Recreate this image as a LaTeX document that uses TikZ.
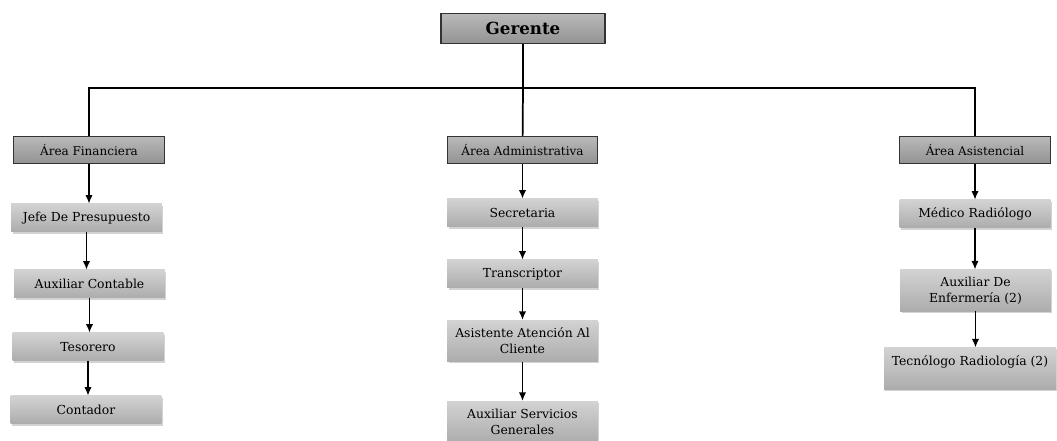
\documentclass[tikz,border=0pt]{standalone}
\usepackage{fontspec}
\setmainfont{DejaVu Serif}
\usetikzlibrary{positioning,shadows,arrows.meta}

\begin{document}
\begin{tikzpicture}[x=0.75pt,y=-0.75pt,
        bossnode/.style={draw=black!80, thick, top color=gray!55, bottom color=gray!85, minimum width=123pt, minimum height=23pt, font=\fontsize{12.5}{14}\selectfont\bfseries},
        areanode/.style={draw=black!80, thick, top color=gray!55, bottom color=gray!85, minimum width=113pt, minimum height=20pt, inner sep=1pt, font=\fontsize{9}{10}\selectfont},
        jobnode/.style={top color=gray!35, bottom color=gray!65, drop shadow={opacity=0.35, shadow xshift=1pt, shadow yshift=-1.2pt}, minimum width=113pt, minimum height=21pt, inner sep=1pt, align=center, font=\fontsize{9.3}{12}\selectfont},
        tallnode/.style={jobnode, minimum height=31pt},
        treeline/.style={line width=1.3pt},
        arrow/.style={line width=1.2pt, -{Latex[length=6.5pt,width=5.5pt]}},
    ]
    \useasboundingbox (0,0) rectangle (1057,441);

    %Nodes: top
    \node[bossnode] (gerente) at (523,28.5) {Gerente};

    %Nodes: areas
    \node[areanode] (area_fin) at (89,150)    {Área Financiera};
    \node[areanode] (area_adm) at (522.5,150) {Área Administrativa};
    \node[areanode] (area_asi) at (975,150)   {Área Asistencial};

    %Nodes: financiera
    \node[jobnode] (fin_jefe)  at (86.5,218) {Jefe De Presupuesto};
    \node[jobnode] (fin_aux)   at (89.5,284) {Auxiliar Contable};
    \node[jobnode] (fin_teso)  at (88,347)   {Tesorero};
    \node[jobnode] (fin_cont)  at (86,410)   {Contador};

    %Nodes: administrativa
    \node[jobnode]  (adm_secr)  at (522.5,213) {Secretaria};
    \node[jobnode]  (adm_trans) at (522.5,274) {Transcriptor};
    \node[tallnode] (adm_asis)  at (522.5,341) {Asistente Atención Al\\Cliente};
    \node[tallnode] (adm_serv)  at (522.5,422) {Auxiliar Servicios\\Generales};

    %Nodes: asistencial
    \node[jobnode]  (asi_med)   at (975,214)   {Médico Radiólogo};
    \node[tallnode] (asi_enf)   at (975.5,290.5) {Auxiliar De\\Enfermería (2)};
    \node[tallnode, minimum width=129pt] (asi_tec) at (970,368.5) {Tecnólogo Radiología (2)\\\mbox{}};

    %Lines: tree from the top
    \coordinate (bus) at (523,88);
    \draw[treeline] (gerente) -- (bus);
    \draw[treeline] (area_fin) |- (bus) -| (area_asi);
    \draw[treeline] (bus) -- (area_adm);

    %Arrows: inside each area
    \draw[arrow] (area_fin) -- (area_fin.south |- fin_jefe.north);
    \draw[arrow] (fin_jefe) -- (fin_jefe.south |- fin_aux.north);
    \draw[arrow] (fin_aux)  -- (fin_aux.south |- fin_teso.north);
    \draw[arrow] (fin_teso) -- (fin_teso.south |- fin_cont.north);

    \draw[arrow] (area_adm)  -- (adm_secr);
    \draw[arrow] (adm_secr)  -- (adm_trans);
    \draw[arrow] (adm_trans) -- (adm_asis);
    \draw[arrow] (adm_asis)  -- (adm_serv);

    \draw[arrow] (area_asi) -- (asi_med);
    \draw[arrow] (asi_med)  -- (asi_med.south |- asi_enf.north);
    \draw[arrow] (asi_enf)  -- (asi_enf.south |- asi_tec.north);
\end{tikzpicture}
\end{document}
